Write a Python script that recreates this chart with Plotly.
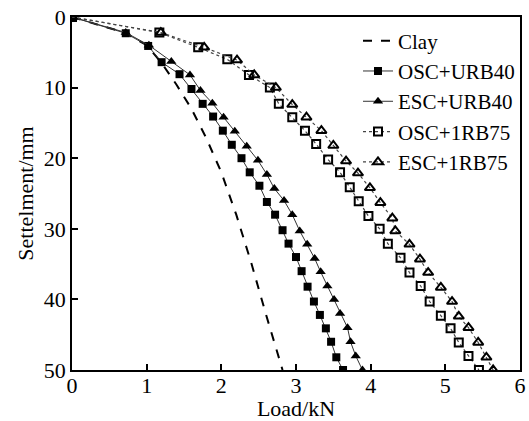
import plotly.graph_objects as go

# Clay (dashed line, no markers)
clay_load = [0, 0.7, 1.0, 1.2, 1.4, 1.6, 1.8, 2.0, 2.2, 2.4, 2.6, 2.82]
clay_settle = [0, 2.2, 4.0, 6.5, 9.6, 13.0, 17.2, 22.0, 28.0, 34.8, 42.2, 50.0]

# OSC+URB40 (filled squares)
osc_urb_load = [0, 0.72, 1.02, 1.2, 1.44, 1.6, 1.75, 1.89, 2.02, 2.14, 2.27, 2.38, 2.51,
                2.61, 2.72, 2.82, 2.90, 3.0, 3.075, 3.155, 3.24, 3.32, 3.40, 3.47, 3.54, 3.63]
osc_urb_settle = [0, 2.3, 4.1, 6.4, 8.1, 10.2, 12.3, 14.1, 16.1, 18.1, 20.0, 22.0, 23.9,
                  26.2, 28.0, 30.2, 32.1, 34.0, 36.0, 38.2, 40.3, 42.2, 44.1, 46.0, 48.2, 50.0]

# ESC+URB40 (filled triangles)
esc_urb_load = [0, 0.72, 1.03, 1.33, 1.58, 1.72, 1.88, 2.03, 2.18, 2.34, 2.49, 2.61, 2.71,
                2.84, 2.95, 3.05, 3.15, 3.25, 3.33, 3.42, 3.51, 3.59, 3.69, 3.73, 3.80, 3.89]
esc_urb_settle = [0, 2.2, 4.0, 6.3, 8.2, 10.4, 12.2, 14.2, 16.2, 18.3, 20.3, 22.3, 24.3,
                  26.0, 28.0, 30.3, 32.2, 34.2, 36.1, 38.1, 40.0, 42.0, 44.0, 46.0, 48.0, 50.0]

# OSC+1RB75 (open squares)
osc_rb_load = [0, 1.17, 1.69, 2.08, 2.37, 2.65, 2.77, 2.95, 3.12, 3.27, 3.43, 3.59, 3.72,
               3.84, 3.97, 4.12, 4.23, 4.40, 4.52, 4.67, 4.79, 4.94, 5.07, 5.18, 5.31, 5.45]
osc_rb_settle = [0, 2.2, 4.3, 6.0, 8.2, 10.0, 12.3, 14.2, 16.1, 18.0, 20.2, 22.0, 24.1,
                 26.1, 28.2, 30.0, 32.1, 34.1, 36.2, 38.1, 40.3, 42.3, 44.1, 46.1, 48.0, 50.0]

# ESC+1RB75 (open triangles)
esc_rb_load = [0, 1.19, 1.77, 2.21, 2.44, 2.73, 2.95, 3.14, 3.34, 3.50, 3.67, 3.83, 3.99,
               4.13, 4.29, 4.33, 4.52, 4.66, 4.77, 4.94, 5.09, 5.18, 5.31, 5.44, 5.55, 5.64]
esc_rb_settle = [0, 2.2, 4.3, 6.1, 8.2, 10.0, 12.4, 14.2, 16.1, 18.2, 20.4, 22.1, 24.2,
                 26.3, 28.5, 30.3, 32.2, 34.3, 36.2, 38.3, 40.3, 42.4, 44.0, 46.1, 48.2, 50.0]

x_ticks = [0, 1, 2, 3, 4, 5, 6]
y_ticks = [0, 10, 20, 30, 40, 50]

FONT = "Liberation Serif"

fig = go.Figure()
fig.add_trace(go.Scatter(x=clay_load, y=clay_settle, mode="lines", name="Clay",
                         line=dict(color="black", width=2, dash="dash")))
fig.add_trace(go.Scatter(x=osc_urb_load, y=osc_urb_settle, mode="lines+markers", name="OSC+URB40",
                         line=dict(color="#333333", width=1),
                         marker=dict(symbol="square", size=8, color="black")))
fig.add_trace(go.Scatter(x=esc_urb_load, y=esc_urb_settle, mode="lines+markers", name="ESC+URB40",
                         line=dict(color="#333333", width=1),
                         marker=dict(symbol="triangle-up", size=9, color="black")))
fig.add_trace(go.Scatter(x=osc_rb_load, y=osc_rb_settle, mode="lines+markers", name="OSC+1RB75",
                         line=dict(color="#444444", width=1.2, dash="dot"),
                         marker=dict(symbol="square-open", size=8, color="black",
                                     line=dict(width=2, color="black"))))
fig.add_trace(go.Scatter(x=esc_rb_load, y=esc_rb_settle, mode="lines+markers", name="ESC+1RB75",
                         line=dict(color="#444444", width=1.2, dash="dot"),
                         marker=dict(symbol="triangle-up-open", size=9, color="black",
                                     line=dict(width=2, color="black"))))

axis_common = dict(showline=True, linecolor="black", linewidth=1.5, mirror=True,
                   ticks="inside", ticklen=6, tickwidth=1.5, tickcolor="black",
                   showgrid=False, zeroline=False, automargin=False,
                   tickfont=dict(family=FONT, size=22, color="black"))

fig.update_xaxes(range=[0, 6], tickvals=x_ticks, ticktext=[str(v) for v in x_ticks],
                 title=dict(text="Load/kN", font=dict(family=FONT, size=22, color="black"), standoff=4),
                 ticklabelstandoff=-5,
                 **axis_common)
fig.update_yaxes(range=[50, 0], tickvals=y_ticks, ticktext=[str(v) for v in y_ticks],
                 title=dict(text="Settelment/mm", font=dict(family=FONT, size=22, color="black"), standoff=4),
                 **axis_common)

fig.update_layout(
    width=529, height=421,
    margin=dict(l=72, r=9, t=17, b=51),
    paper_bgcolor="white", plot_bgcolor="white",
    font=dict(family=FONT, size=22, color="black"),
    legend=dict(x=1, y=0.99, xanchor="right", yanchor="top", bgcolor="rgba(0,0,0,0)",
                font=dict(family=FONT, size=21, color="black"),
                tracegroupgap=0, itemwidth=30),
    showlegend=True,
)

fig.write_html("out.html", config={"displayModeBar": False},
               post_script="document.body.style.margin='0';document.body.style.overflow='hidden';")
